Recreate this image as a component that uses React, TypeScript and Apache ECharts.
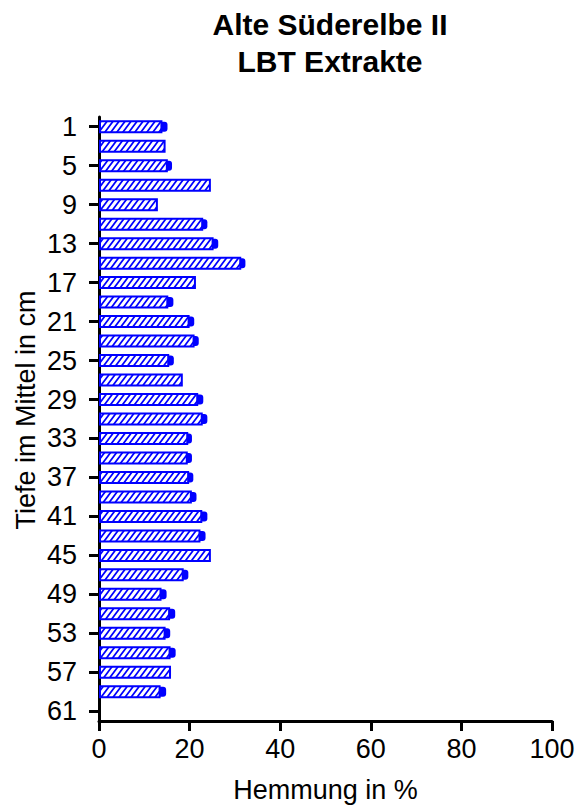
import React, { useEffect, useRef } from 'react';
import * as echarts from 'echarts';

// Depth (cm) of each sample, top to bottom
const depthLabels = [
  '1', '3', '5', '7', '9', '11', '13', '15', '17', '19', '21', '23', '25', '27', '29', '31',
  '33', '35', '37', '39', '41', '43', '45', '47', '49', '51', '53', '55', '57', '59', '61',
];

// Inhibition (%) per depth
const inhibition = [
  14.0, 14.7, 15.2, 24.7, 13.0, 23.0, 25.3, 31.4, 21.4, 15.3, 20.0, 21.1, 15.5, 18.5, 21.9, 22.9,
  19.7, 19.6, 19.9, 20.5, 22.8, 22.4, 24.7, 18.7, 13.8, 15.7, 14.7, 15.8, 15.9, 13.6, null,
];

// Error (%) per depth, null where no error bar is drawn
const errorSize = [
  0.9, null, 0.7, null, null, 0.7, 0.8, 0.7, null, 0.9, 0.8, 0.7, 0.8, null, 0.9, 0.8,
  0.6, 0.7, 0.7, 0.8, 0.9, 0.9, null, 0.8, 0.9, 0.9, 0.8, 0.9, null, 1.0, null,
];

const titleLines = ['Alte Süderelbe II', 'LBT Extrakte'];
const xName = 'Hemmung in %';
const yName = 'Tiefe im Mittel in cm';

const BLUE = '#0000ff';
const FONT = '"Liberation Sans", Arial, sans-serif';

// Diagonal "/" hatch tile for the bar fill
function hatchTile(): HTMLCanvasElement {
  const w = 6;
  const h = 8;
  const c = document.createElement('canvas');
  c.width = w;
  c.height = h;
  const ctx = c.getContext('2d')!;
  ctx.fillStyle = '#ffffff';
  ctx.fillRect(0, 0, w, h);
  ctx.strokeStyle = BLUE;
  ctx.lineWidth = 1.7;
  ctx.beginPath();
  for (const dx of [-w, 0, w]) {
    ctx.moveTo(dx - w * 0.2, h * 1.2);
    ctx.lineTo(dx + w * 1.2, -h * 0.2);
  }
  ctx.stroke();
  return c;
}

export default function App() {
  const ref = useRef<HTMLDivElement>(null);

  useEffect(() => {
    if (!ref.current) return;
    const chart = echarts.init(ref.current, undefined, { renderer: 'svg' });

    const errData = inhibition
      .map((v, i) => [v, i, errorSize[i]])
      .filter((d) => d[0] != null && d[2] != null);

    chart.setOption({
      animation: false,
      backgroundColor: '#ffffff',
      title: {
        text: titleLines.join('\n'),
        left: 325,
        top: 1,
        textAlign: 'center',
        textStyle: {
          fontFamily: FONT,
          fontSize: 30,
          fontWeight: 'bold',
          lineHeight: 37,
          color: '#000',
        },
      },
      grid: { left: 99, right: 27, top: 117, bottom: 89, containLabel: false },
      xAxis: {
        type: 'value',
        min: 0,
        max: 100,
        interval: 20,
        name: xName,
        nameLocation: 'middle',
        nameGap: 55,
        nameTextStyle: { fontFamily: FONT, fontSize: 27, color: '#000' },
        axisLine: { show: true, lineStyle: { color: '#000', width: 3 } },
        axisTick: { show: true, length: 10, lineStyle: { color: '#000', width: 3 } },
        axisLabel: { fontFamily: FONT, fontSize: 27, color: '#000', margin: 14 },
        splitLine: { show: false },
      },
      yAxis: {
        type: 'category',
        inverse: true,
        data: depthLabels,
        boundaryGap: true,
        axisLine: { show: true, lineStyle: { color: '#000', width: 3 } },
        axisTick: {
          show: true,
          alignWithLabel: true,
          interval: 1,
          length: 10,
          lineStyle: { color: '#000', width: 3 },
        },
        axisLabel: { interval: 1, fontFamily: FONT, fontSize: 27, color: '#000', margin: 22 },
        splitLine: { show: false },
      },
      graphic: [
        {
          type: 'text',
          x: 26,
          y: 410,
          rotation: Math.PI / 2,
          style: {
            text: yName,
            font: `27px ${FONT}`,
            fill: '#000',
            textAlign: 'center',
            textVerticalAlign: 'middle',
          },
        },
      ],
      series: [
        {
          type: 'bar',
          data: inhibition,
          barWidth: 13,
          itemStyle: {
            color: { image: hatchTile(), repeat: 'repeat' },
            borderColor: BLUE,
            borderWidth: 2,
          },
          z: 2,
        },
        {
          type: 'custom',
          data: errData,
          encode: { x: 0, y: 1 },
          z: 3,
          renderItem: (params: any, api: any) => {
            const v = api.value(0);
            const idx = api.value(1);
            const e = api.value(2);
            const p0 = api.coord([v, idx]);
            const p1 = api.coord([v + e, idx]);
            return {
              type: 'rect',
              shape: {
                x: p0[0] - 1,
                y: p1[1] - 5,
                width: p1[0] - p0[0] + 2,
                height: 10,
                r: [0, 3, 3, 0],
              },
              style: { fill: BLUE },
            };
          },
        },
      ],
    });

    return () => chart.dispose();
  }, []);

  return (
    <div
      ref={ref}
      style={{ position: 'fixed', left: 0, top: 0, width: 579, height: 810, background: '#fff' }}
    />
  );
}
